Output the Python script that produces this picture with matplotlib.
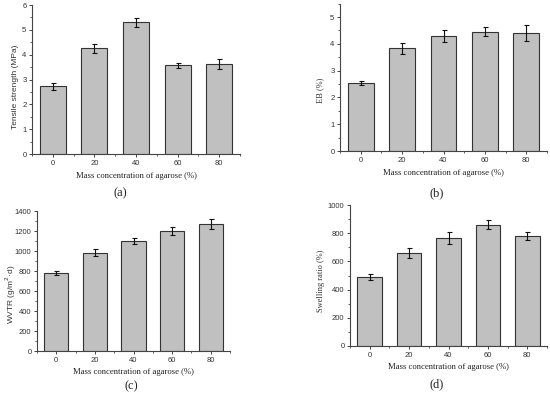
import matplotlib
matplotlib.use("Agg")
import matplotlib.pyplot as plt
from matplotlib.ticker import MultipleLocator

conc = [0, 20, 40, 60, 80]

ts_vals = [2.72, 4.25, 5.30, 3.58, 3.62]
ts_err = [0.15, 0.17, 0.17, 0.10, 0.20]

eb_vals = [2.55, 3.83, 4.30, 4.45, 4.42]
eb_err = [0.08, 0.21, 0.22, 0.17, 0.30]

wvtr_vals = [785, 985, 1100, 1200, 1270]
wvtr_err = [20, 32, 28, 38, 52]

sw_vals = [490, 660, 765, 860, 778]
sw_err = [20, 35, 40, 32, 28]

xlabel = "Mass concentration of agarose (%)"
serif = "Liberation Serif"
sans = "Liberation Sans"

fig = plt.figure(figsize=(5.5, 3.95), dpi=100)

def fy(py):
    return 1 - py / 395

def panel(rect, vals, errs, ylim, ymajor, yminor, ylabel, ylab_xy, ylab_font, xlab_y, tag, tag_xy):
    ax = fig.add_axes(rect)
    ax.bar(conc, vals, width=12.5, color="#c0c0c0", edgecolor="#333333", linewidth=0.8, zorder=2)
    ax.errorbar(conc, vals, yerr=errs, fmt="none", ecolor="#111111", elinewidth=0.8,
                capsize=1.8, capthick=0.8, zorder=3)
    ax.set_xlim(-10, 90)
    ax.set_ylim(*ylim)
    ax.set_xticks(conc)
    ax.xaxis.set_minor_locator(MultipleLocator(10))
    ax.yaxis.set_major_locator(MultipleLocator(ymajor))
    ax.yaxis.set_minor_locator(MultipleLocator(yminor))
    for s in ("top", "right"):
        ax.spines[s].set_visible(False)
    for s in ("left", "bottom"):
        ax.spines[s].set_color("#444444")
        ax.spines[s].set_linewidth(0.8)
    ax.tick_params(which="major", direction="out", length=2.5, width=0.7, colors="#444444",
                   labelsize=5.5, pad=1.5)
    ax.tick_params(which="minor", direction="out", length=1.3, width=0.6, colors="#444444")
    for lab in ax.get_xticklabels() + ax.get_yticklabels():
        lab.set_fontfamily(sans)
        lab.set_color("#333333")
    fig.text(ylab_xy[0] / 550, fy(ylab_xy[1]), ylabel, rotation=90, ha="center", va="center",
             fontsize=6, family=ylab_font, color="#333333")
    x0, y0, w, h = rect
    fig.text(x0 + w / 2, fy(xlab_y), xlabel, ha="center", va="center", fontsize=6.2,
             family=serif, color="#222222")
    fig.text(tag_xy[0] / 550, fy(tag_xy[1]), tag, ha="center", va="center", fontsize=9,
             family=serif, color="#222222")
    return ax

panel([32/550, fy(154), 208/550, 149/395], ts_vals, ts_err, (0, 6), 1, 0.5,
      "Tensile strength (MPa)", (15.5, 87), sans, 176, "(a)", (120, 193))
panel([340/550, fy(151), 207/550, 147.4/395], eb_vals, eb_err, (0, 5.5), 1, 0.5,
      "EB (%)", (320, 90), serif, 173, "(b)", (437, 193))
panel([37/550, fy(351), 193/550, 140/395], wvtr_vals, wvtr_err, (0, 1400), 200, 100,
      "WVTR (g/m$^2$·d)", (11, 294), sans, 372, "(c)", (131, 386))
panel([350/550, fy(346), 197/550, 141/395], sw_vals, sw_err, (0, 1000), 200, 100,
      "Swelling ratio (%)", (321, 281), serif, 367, "(d)", (437, 384))

fig.savefig("out.png", dpi=100)
